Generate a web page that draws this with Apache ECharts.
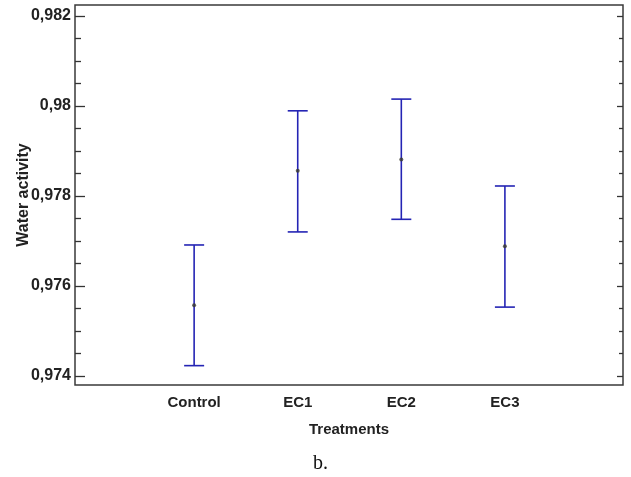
<!DOCTYPE html>
<html>
<head>
<meta charset="utf-8">
<script src="https://cdn.jsdelivr.net/npm/echarts@6/dist/echarts.min.js"></script>
<style>
html,body{margin:0;padding:0;background:#fff;}
#chart{width:631px;height:477px;}
</style>
</head>
<body>
<div id="chart"></div>
<script>
// Data
var categories = ['Control', 'EC1', 'EC2', 'EC3'];
var means = [0.97557, 0.97856, 0.97881, 0.97688];
var lower = [0.97423, 0.97720, 0.97748, 0.97553];
var upper = [0.97691, 0.97989, 0.98015, 0.97822];
var yMajorTicks = [0.974, 0.976, 0.978, 0.980, 0.982];
var yMinorTicks = [0.9745, 0.975, 0.9755, 0.9765, 0.977, 0.9775, 0.9785, 0.979, 0.9795, 0.9805, 0.981, 0.9815];
var xPositions = [1, 2, 3, 4];

var chart = echarts.init(document.getElementById('chart'), null, {renderer: 'canvas'});

var FONT = 'Liberation Sans, Arial, sans-serif';
var Y_MIN = 0.9738, Y_MAX = 0.98224;
var X_MIN = -0.15, X_MAX = 5.14;
var barColor = '#2424b4';

function yFmt(v) { return String(+v.toFixed(3)).replace('.', ','); }

function tickAxis(pos, ticks, len) {
  return {
    type: 'value', position: pos, min: Y_MIN, max: Y_MAX,
    splitLine: {show: false},
    axisLine: {show: false},
    axisTick: {show: true, inside: true, length: len, customValues: ticks,
      lineStyle: {color: '#333', width: 1.3}},
    axisLabel: {show: false}
  };
}

var option = {
  backgroundColor: '#fff',
  animation: false,
  title: {
    text: 'b.', left: 308, top: 449,
    textStyle: {fontFamily: 'Liberation Serif, Times New Roman, serif', fontWeight: 'normal', fontSize: 20, color: '#111'}
  },
  grid: {left: 75, right: 8, top: 5, bottom: 92, show: true, borderColor: '#3a3a3a', borderWidth: 1.5, backgroundColor: '#fff'},
  xAxis: {
    type: 'value', min: X_MIN, max: X_MAX,
    splitLine: {show: false}, axisLine: {show: false}, axisTick: {show: false},
    axisLabel: {customValues: xPositions, formatter: function (v) { return categories[Math.round(v) - 1] || ''; },
      margin: 10, fontFamily: FONT, fontWeight: 'bold', fontSize: 15, color: '#222'},
    name: 'Treatments', nameLocation: 'middle', nameGap: 37,
    nameTextStyle: {fontFamily: FONT, fontWeight: 'bold', fontSize: 15, color: '#222'}
  },
  yAxis: [
    {
      type: 'value', position: 'left', min: Y_MIN, max: Y_MAX,
      splitLine: {show: false}, axisLine: {show: false}, axisTick: {show: false},
      axisLabel: {show: true, customValues: yMajorTicks, formatter: yFmt, margin: 4,
        fontFamily: FONT, fontWeight: 'bold', fontSize: 16, color: '#222'},
      name: 'Water activity', nameLocation: 'middle', nameGap: 43, nameRotate: 90,
      nameMoveOverlap: false,
      nameTextStyle: {fontFamily: FONT, fontWeight: 'bold', fontSize: 16, color: '#222'}
    },
    tickAxis('left', yMajorTicks, 10),
    tickAxis('left', yMinorTicks, 6),
    tickAxis('right', yMajorTicks, 6),
    tickAxis('right', yMinorTicks, 4)
  ],
  series: [
    {
      type: 'custom',
      data: categories.map(function (c, i) { return [xPositions[i], lower[i], upper[i]]; }),
      renderItem: function (params, api) {
        var x = api.value(0);
        var lo = api.coord([x, api.value(1)]);
        var hi = api.coord([x, api.value(2)]);
        var hw = 10;
        var style = {stroke: barColor, lineWidth: 1.6, fill: null};
        return {
          type: 'group',
          children: [
            {type: 'line', shape: {x1: lo[0], y1: lo[1], x2: hi[0], y2: hi[1]}, style: style},
            {type: 'line', shape: {x1: lo[0] - hw, y1: lo[1], x2: lo[0] + hw, y2: lo[1]}, style: style},
            {type: 'line', shape: {x1: hi[0] - hw, y1: hi[1], x2: hi[0] + hw, y2: hi[1]}, style: style}
          ]
        };
      },
      z: 2
    },
    {
      type: 'scatter',
      data: categories.map(function (c, i) { return [xPositions[i], means[i]]; }),
      symbol: 'circle', symbolSize: 4,
      itemStyle: {color: '#3a3a30'},
      z: 3
    }
  ]
};
chart.setOption(option);
</script>
</body>
</html>
